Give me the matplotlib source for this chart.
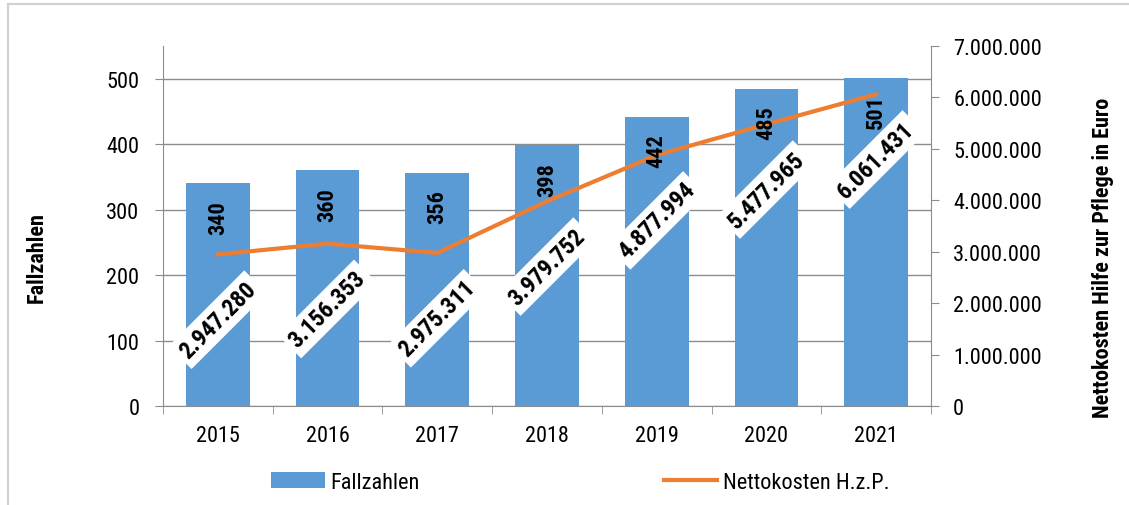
import matplotlib.pyplot as plt
from matplotlib.lines import Line2D
import numpy as np

years = ["2015", "2016", "2017", "2018", "2019", "2020", "2021"]
fallzahlen = [340, 360, 356, 398, 442, 485, 501]
kosten = [2947280, 3156353, 2975311, 3979752, 4877994, 5477965, 6061431]

BLUE = "#5B9BD5"
ORANGE = "#ED7D31"
GREY = "#8C8C8C"

plt.rcParams['font.family'] = ['Roboto Condensed', 'DejaVu Sans']


def de(v):
    return f"{v:,.0f}".replace(",", ".")


fig = plt.figure(figsize=(11.29, 5.06), dpi=100)
ax = fig.add_axes([0.1444, 0.1957, 0.6802, 0.7114])
ax2 = ax.twinx()

x = np.arange(len(years))
ax.bar(x, fallzahlen, width=0.58, color=BLUE, zorder=2, label="Fallzahlen")
ax.set_ylim(0, 550)
ax.set_xlim(-0.5, len(years) - 0.5)
ax.set_yticks(range(0, 501, 100))
ax.yaxis.grid(True, color=GREY, lw=1)
ax.set_axisbelow(True)
ax.set_xticks(x)
ax.set_xticklabels(years)
ax.set_xticks(np.arange(-0.5, len(years), 1), minor=True)
ax.tick_params(axis='x', which='major', length=0, pad=14, labelsize=16)
ax.tick_params(axis='x', which='minor', length=6, color=GREY, direction='out')
ax.tick_params(axis='y', length=6, color=GREY, labelsize=16, pad=11)
for s in ["top", "right"]:
    ax.spines[s].set_visible(False)
ax.spines["left"].set_color(GREY)
ax.spines["bottom"].set_color(GREY)
ax.set_ylabel("Fallzahlen", fontsize=16, fontweight='bold')
ax.yaxis.set_label_coords(-0.165, 0.414)
ax.yaxis.label.set_va('center')

ax2.plot(x, kosten, color=ORANGE, lw=3, zorder=3, label="Nettokosten H.z.P.")
ax2.set_ylim(0, 7000000)
ax2.set_yticks(range(0, 7000001, 1000000))
ax2.set_yticklabels([de(v) for v in range(0, 7000001, 1000000)])
ax2.tick_params(axis='y', length=6, color=GREY, labelsize=16, pad=10)
for s in ["top", "left", "bottom"]:
    ax2.spines[s].set_visible(False)
ax2.spines["right"].set_color(GREY)
ax2.set_ylabel("Nettokosten Hilfe zur Pflege in Euro", fontsize=16, fontweight='bold')
ax2.yaxis.set_label_coords(1.224, 0.414)
ax2.yaxis.label.set_va('center')

# bar labels drawn on the top axes so they sit above the line
for xi, v in zip(x, fallzahlen):
    ax2.annotate(str(v), (xi, v), xycoords=ax.transData, xytext=(0, -24),
                 textcoords='offset points', rotation=90, ha='center', va='center',
                 fontsize=16, fontweight='bold', zorder=5)

for xi, v in zip(x, kosten):
    ax2.annotate(de(v), (xi, v), xytext=(0, -47), textcoords='offset points',
                 rotation=45, ha='center', va='center', fontsize=17,
                 fontweight='bold', zorder=6,
                 bbox=dict(boxstyle='square,pad=0.2', fc='white', ec='none'))

h1, l1 = ax.get_legend_handles_labels()
h2, l2 = ax2.get_legend_handles_labels()
fig.legend(h1 + h2, l1 + l2, loc='center', bbox_to_anchor=(0.514, 0.045), ncol=2,
           frameon=False, fontsize=16, columnspacing=11, handlelength=2.4,
           handletextpad=0.25)

# light frame (only top and left edge visible in the original crop)
fig.add_artist(Line2D([0.0075, 1.0], [0.9895, 0.9895], transform=fig.transFigure,
                      color="#D0D0D0", lw=1.5))
fig.add_artist(Line2D([0.0075, 0.0075], [0.0, 0.9895], transform=fig.transFigure,
                      color="#D0D0D0", lw=1.5))

fig.savefig("out.png", dpi=100)
